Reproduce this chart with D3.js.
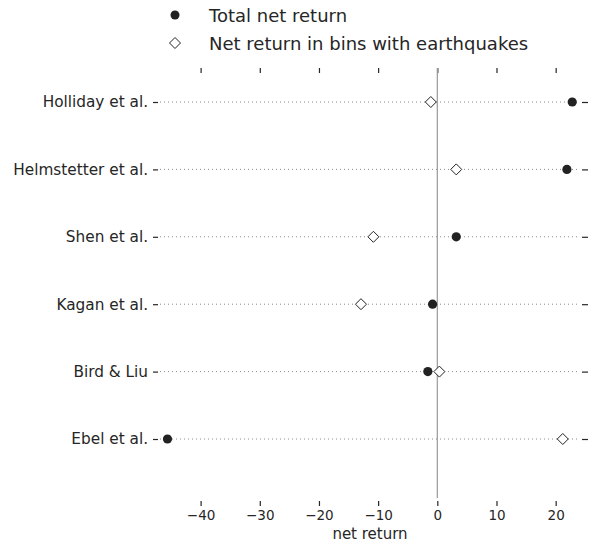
<!DOCTYPE html>
<html>
<head>
<meta charset="utf-8">
<script src="https://cdn.jsdelivr.net/npm/d3@7"></script>
<style>
  body{margin:0;background:#fff;}
  text{font-family:"DejaVu Sans",sans-serif;fill:#262626;}
</style>
</head>
<body>
<svg id="chart" width="596" height="544"></svg>
<script>
// data
var models = ["Holliday et al.","Helmstetter et al.","Shen et al.","Kagan et al.","Bird & Liu","Ebel et al."];
var totalReturn = [22.8, 21.9, 3.2, -0.8, -1.6, -45.6];
var quakeReturn = [-1.1, 3.2, -10.8, -12.9, 0.35, 21.2];
var xTicks = [-40,-30,-20,-10,0,10,20];
var legendLabels = ["Total net return","Net return in bins with earthquakes"];

var svg = d3.select("#chart");
var pLeft = 158, pRight = 582, pTop = 70, pBottom = 500;

var x = d3.scaleLinear().domain([-47.2,24.45]).range([pLeft,pRight]);
var y = d3.scalePoint().domain(models).range([102,439]);

function diamond(sel,s){
  sel.attr("d","M0,"+(-s)+"L"+s+",0L0,"+s+"L"+(-s)+",0Z")
    .attr("fill","#fff").attr("stroke","#222").attr("stroke-width",1);
}

// axes
var bx = svg.append("g").attr("transform","translate(0,"+(pBottom+1)+")")
  .call(d3.axisBottom(x).tickValues(xTicks).tickSize(5).tickPadding(4));
var tx = svg.append("g").attr("transform","translate(0,"+(pTop-2)+")")
  .call(d3.axisTop(x).tickValues(xTicks).tickSize(-5).tickFormat(""));
var ly = svg.append("g").attr("transform","translate("+pLeft+",0)")
  .call(d3.axisLeft(y).tickSize(5).tickPadding(5));
var ry = svg.append("g").attr("transform","translate("+pRight+",0)")
  .call(d3.axisRight(y).tickSize(6).tickFormat(""));
[bx,tx,ly,ry].forEach(function(g){
  g.select(".domain").remove();
  g.selectAll(".tick line").attr("stroke","#262626").attr("stroke-width",1.2);
  g.selectAll("text").attr("fill","#262626");
});
bx.selectAll("text").attr("font-size",13.5);
ly.selectAll("text").attr("font-size",15.3);

svg.append("text").attr("x",(pLeft+pRight)/2).attr("y",539)
  .attr("text-anchor","middle").attr("font-size",15).text("net return");

// dotted guide lines
svg.append("g").selectAll("line").data(models).join("line")
  .attr("x1",pLeft+2).attr("x2",pRight-2)
  .attr("y1",function(d){return y(d);}).attr("y2",function(d){return y(d);})
  .attr("stroke","#8a8a8a").attr("stroke-width",1).attr("stroke-dasharray","1,3");

// zero line
svg.append("line").attr("x1",x(0)).attr("x2",x(0)).attr("y1",pTop-2).attr("y2",pBottom-2)
  .attr("stroke","#999").attr("stroke-width",1.2);

// markers
svg.append("g").selectAll("path").data(models).join("path")
  .attr("transform",function(d,i){return "translate("+x(quakeReturn[i])+","+y(d)+")";})
  .call(diamond,5.5);
svg.append("g").selectAll("circle").data(models).join("circle")
  .attr("cx",function(d,i){return x(totalReturn[i]);})
  .attr("cy",function(d){return y(d);})
  .attr("r",4.6).attr("fill","#222");

// legend
var lg = svg.append("g");
lg.append("circle").attr("cx",175).attr("cy",15).attr("r",4.5).attr("fill","#222");
lg.append("path").attr("transform","translate(175,43)").call(diamond,5.5);
lg.selectAll("text").data(legendLabels).join("text")
  .attr("x",209).attr("y",function(d,i){return 22+i*28;})
  .attr("font-size",18).text(function(d){return d;});
</script>
</body>
</html>
